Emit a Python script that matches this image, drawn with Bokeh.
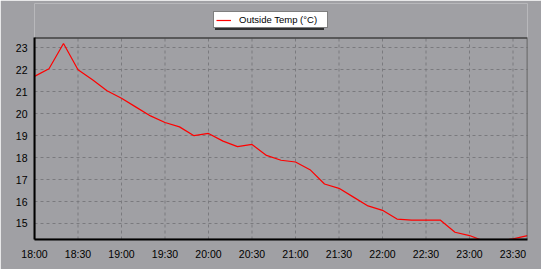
import pandas as pd
from bokeh.plotting import figure
from bokeh.models import (Range1d, FixedTicker, DatetimeTickFormatter, Legend,
                          LegendItem)
from bokeh.embed import file_html
from bokeh.resources import INLINE

# ---- data ----
times = ["18:00", "18:10", "18:20", "18:30", "18:40", "18:50",
         "19:00", "19:10", "19:20", "19:30", "19:40", "19:50",
         "20:00", "20:10", "20:20", "20:30", "20:40", "20:50",
         "21:00", "21:10", "21:20", "21:30", "21:40", "21:50",
         "22:00", "22:10", "22:20", "22:30", "22:40", "22:50",
         "23:00", "23:10", "23:20", "23:30", "23:40"]
outside_temp = [21.7, 22.05, 23.2, 22.0, 21.55, 21.05,
                20.7, 20.3, 19.9, 19.6, 19.4, 19.0,
                19.1, 18.75, 18.5, 18.6, 18.1, 17.88,
                17.8, 17.45, 16.8, 16.6, 16.2, 15.8,
                15.6, 15.2, 15.15, 15.15, 15.15, 14.6,
                14.45, 14.2, 14.2, 14.3, 14.45]
x_tick_labels = ["18:00", "18:30", "19:00", "19:30", "20:00", "20:30",
                 "21:00", "21:30", "22:00", "22:30", "23:00", "23:30"]
y_ticks = [15, 16, 17, 18, 19, 20, 21, 22, 23]
series_name = "Outside Temp (\u00b0C)"

DAY = "2000-01-01 "
x = pd.to_datetime([DAY + t for t in times])
x_ticks_ms = [pd.Timestamp(DAY + t).value // 10**6 for t in x_tick_labels]
X_START = pd.Timestamp(DAY + "18:00").value // 10**6
X_END = pd.Timestamp(DAY + "23:40").value // 10**6

Y_MIN, Y_MAX = 14.27, 23.45      # visible plot area
Y_TOP = 25.02                    # extra headroom for the legend strip

BG = "#A0A0A4"
GRID = "#7A7A7E"
FONT = "Liberation Sans"

p = figure(width=541, height=269, x_axis_type="datetime",
           output_backend="svg", toolbar_location=None,
           x_range=Range1d(X_START, X_END),
           y_range=Range1d(Y_MIN, Y_TOP),
           min_border_left=34, min_border_right=14,
           min_border_top=3, min_border_bottom=30)
p.background_fill_color = BG
p.border_fill_color = BG
p.outline_line_color = None
p.outline_line_alpha = 0.0
p.outline_line_width = 0

# vertical grid lines limited to the plot area (drawn from the tick list)
p.segment(x0=x_ticks_ms, x1=x_ticks_ms,
          y0=[Y_MIN] * len(x_ticks_ms), y1=[Y_MAX] * len(x_ticks_ms),
          line_color=GRID, line_dash="3 3", line_width=1)

r = p.line(x, outside_temp, line_color="#FF0000", line_width=1.2)

# plot-area border (top / right)
p.quad(left=[X_START], right=[X_END], bottom=[Y_MIN], top=[Y_MAX],
       fill_alpha=0.0, line_color="#404040", line_width=1.5)

for ax in (p.xaxis[0], p.yaxis[0]):
    ax.axis_line_color = "black"
    ax.axis_line_width = 2
    ax.major_tick_line_color = None
    ax.minor_tick_line_color = None
    ax.major_tick_out = 0
    ax.major_tick_in = 0
    ax.major_label_text_font = FONT
    ax.major_label_text_font_size = "10.5px"
    ax.major_label_text_color = "black"

p.xaxis.ticker = FixedTicker(ticks=x_ticks_ms)
p.xaxis.formatter = DatetimeTickFormatter(minutes="%H:%M", hourmin="%H:%M",
                                          hours="%H:%M", days="%H:%M")
p.xaxis.major_label_standoff = 8
p.yaxis.ticker = FixedTicker(ticks=y_ticks)
p.yaxis.major_label_standoff = 7
p.yaxis.bounds = (Y_MIN, Y_MAX)

p.xgrid.grid_line_color = None
p.ygrid.grid_line_color = GRID
p.ygrid.grid_line_dash = "3 3"
p.ygrid.grid_line_width = 1

common = dict(orientation="horizontal", glyph_width=15, glyph_height=10,
              label_height=10, label_width=86, label_standoff=8, padding=2,
              spacing=0, margin=0, label_text_font=FONT,
              label_text_font_size="9.5px")

shadow = Legend(items=[LegendItem(label=" ", renderers=[r])],
                location=(181, 209), background_fill_color="#303030",
                background_fill_alpha=1.0, border_line_color=None,
                label_text_alpha=0.0, **common)
legend = Legend(items=[LegendItem(label=series_name, renderers=[r])],
                location=(179, 211), background_fill_color="white",
                background_fill_alpha=1.0, border_line_color="black",
                border_line_width=1, label_text_color="black", **common)
p.add_layout(shadow, "center")
p.add_layout(legend, "center")

open("out.html", "w").write(file_html(p, INLINE))
